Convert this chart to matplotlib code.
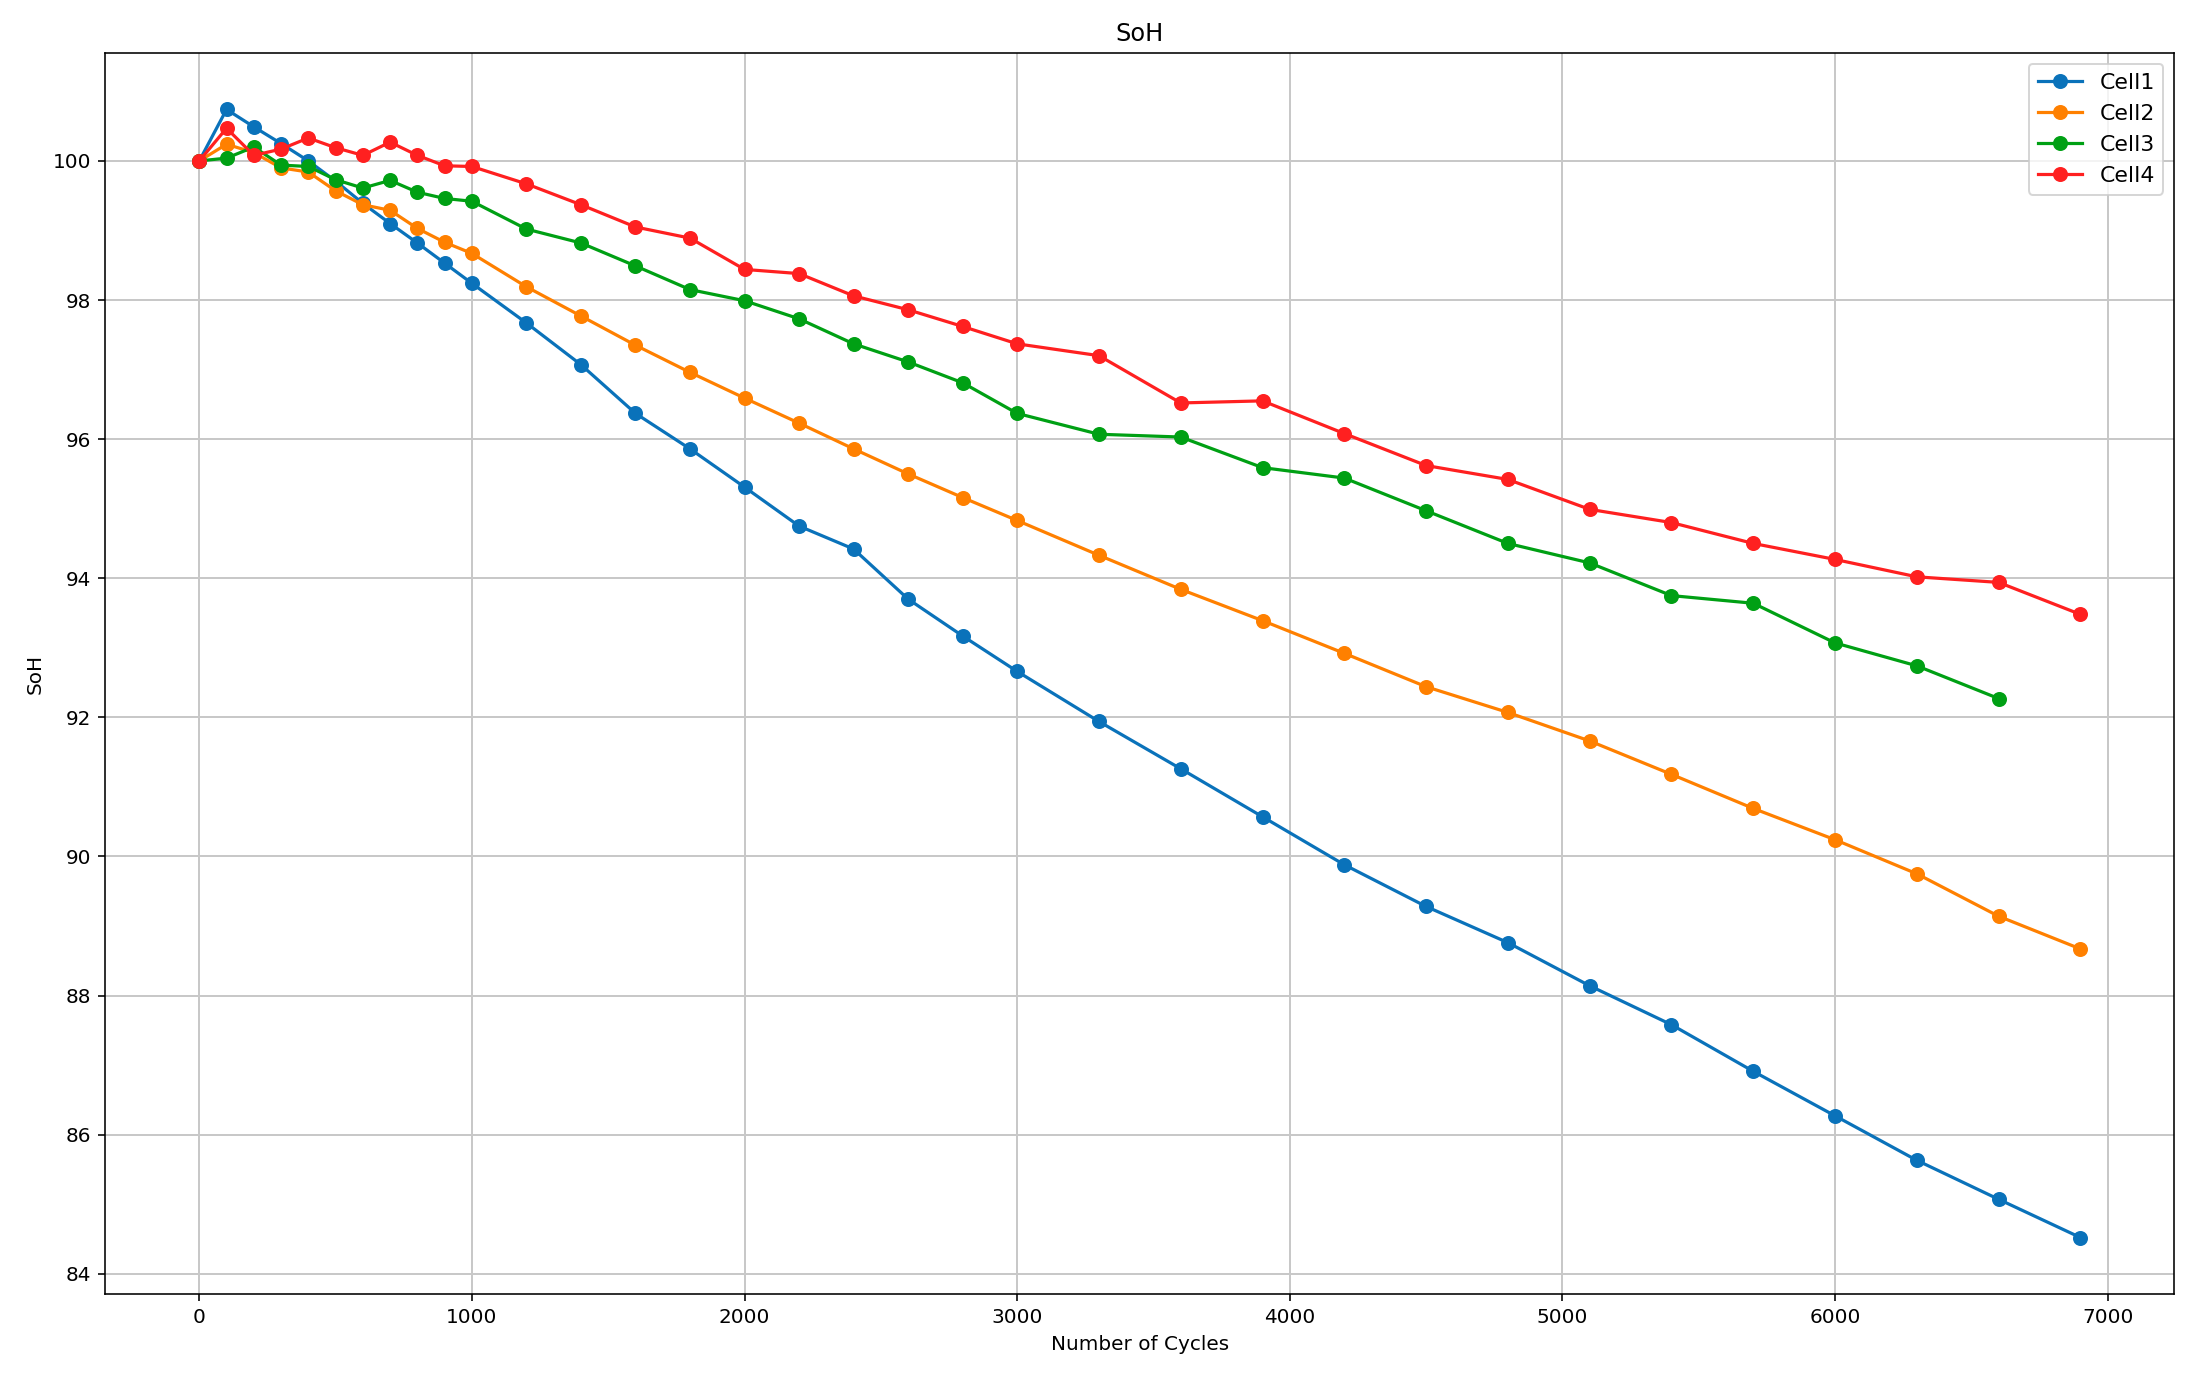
import matplotlib
matplotlib.use("Agg")
import matplotlib.pyplot as plt

cycles_long = [0, 100, 200, 300, 400, 500, 600, 700, 800, 900, 1000,
               1200, 1400, 1600, 1800, 2000, 2200, 2400, 2600, 2800, 3000,
               3300, 3600, 3900, 4200, 4500, 4800, 5100, 5400, 5700, 6000,
               6300, 6600, 6900]
cycles_cell3 = cycles_long[:-1]

cell1 = [100.0, 100.74, 100.49, 100.25, 100.0, 99.71, 99.39, 99.10, 98.82, 98.53, 98.24,
         97.67, 97.07, 96.37, 95.86, 95.31, 94.75, 94.42, 93.70, 93.17, 92.66,
         91.94, 91.26, 90.57, 89.88, 89.28, 88.76, 88.14, 87.58, 86.91, 86.27,
         85.63, 85.07, 84.52]
cell2 = [100.0, 100.24, 100.12, 99.90, 99.84, 99.57, 99.37, 99.29, 99.03, 98.83, 98.67,
         98.19, 97.77, 97.35, 96.96, 96.59, 96.23, 95.86, 95.50, 95.16, 94.83,
         94.33, 93.84, 93.39, 92.92, 92.44, 92.07, 91.66, 91.18, 90.69, 90.24,
         89.75, 89.14, 88.67]
cell3 = [100.0, 100.04, 100.20, 99.94, 99.92, 99.73, 99.61, 99.72, 99.55, 99.46, 99.42,
         99.02, 98.82, 98.49, 98.15, 97.99, 97.73, 97.37, 97.11, 96.81, 96.37,
         96.07, 96.03, 95.59, 95.44, 94.97, 94.50, 94.22, 93.75, 93.64, 93.07,
         92.74, 92.27]
cell4 = [100.0, 100.47, 100.08, 100.17, 100.33, 100.19, 100.08, 100.27, 100.08, 99.93, 99.92,
         99.67, 99.37, 99.05, 98.89, 98.44, 98.38, 98.06, 97.86, 97.62, 97.37,
         97.20, 96.52, 96.55, 96.08, 95.62, 95.42, 94.99, 94.80, 94.50, 94.27,
         94.02, 93.94, 93.48]

fig = plt.figure(figsize=(2192 / 144, 1378 / 144), dpi=144)
ax = fig.add_axes([0.048, 0.061, 0.944, 0.9005])

ax.plot(cycles_long, cell1, marker='o', color='#0a72ba', lw=1.6, ms=6.5, label='Cell1')
ax.plot(cycles_long, cell2, marker='o', color='#ff8000', lw=1.6, ms=6.5, label='Cell2')
ax.plot(cycles_cell3, cell3, marker='o', color='#00a014', lw=1.6, ms=6.5, label='Cell3')
ax.plot(cycles_long, cell4, marker='o', color='#ff2020', lw=1.6, ms=6.5, label='Cell4')

ax.set_title('SoH')
ax.set_xlabel('Number of Cycles')
ax.set_ylabel('SoH')
ax.grid(True, color='#c8c8c8', lw=1.0)
ax.legend(loc='upper right', fontsize=11)

fig.savefig('out.png', dpi=144)
